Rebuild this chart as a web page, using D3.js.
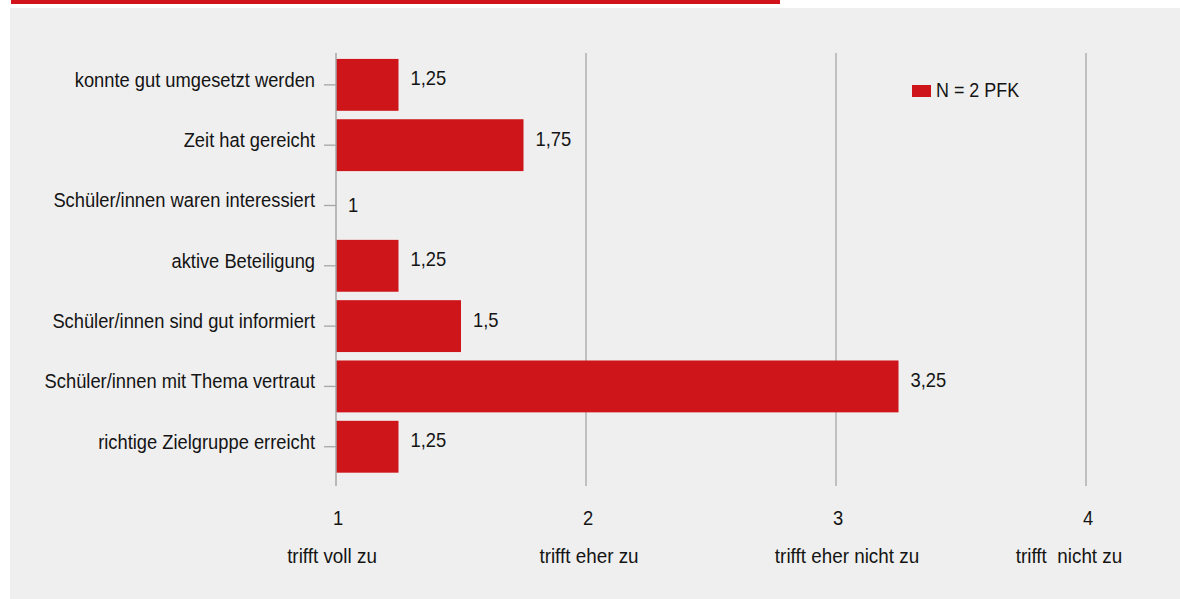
<!DOCTYPE html>
<html>
<head>
<meta charset="utf-8">
<script src="https://cdn.jsdelivr.net/npm/d3@7"></script>
<style>
  html, body { margin: 0; padding: 0; background: #ffffff; }
  svg { display: block; }
  text { font-family: "Liberation Sans", Arial, sans-serif; fill: #141414; white-space: pre; }
</style>
</head>
<body>
<script>
// Statements rated on a scale from 1 (trifft voll zu) to 4 (trifft nicht zu)
const categories = [
  "konnte gut umgesetzt werden",
  "Zeit hat gereicht",
  "Schüler/innen waren interessiert",
  "aktive Beteiligung",
  "Schüler/innen sind gut informiert",
  "Schüler/innen mit Thema vertraut",
  "richtige Zielgruppe erreicht"
];
const values = [1.25, 1.75, 1, 1.25, 1.5, 3.25, 1.25];
const scaleTicks = [1, 2, 3, 4];
const scaleLabels = ["trifft voll zu", "trifft eher zu", "trifft eher nicht zu", "trifft  nicht zu"];
const seriesName = "N = 2 PFK";

const W = 1180, H = 599;
const red = "#cd151a";
const grid = "#a6a6a6";
const sx = 0.92;                       // horizontal squeeze for a condensed look
const sxCat = 0.94;
const labelNudge = [-4, 3, 11, -17];   // horizontal nudge of the verbal scale anchors

const svg = d3.select("body").append("svg").attr("width", W).attr("height", H);

// accent line and panel
svg.append("rect").attr("x", 11).attr("y", 0).attr("width", 769).attr("height", 4).attr("fill", "#d2121b");
svg.append("rect").attr("x", 10).attr("y", 8).attr("width", W - 10).attr("height", H - 8).attr("fill", "#efefef");

const x = d3.scaleLinear().domain([1, 4]).range([336, 1086]);
const y = d3.scaleBand().domain(categories).range([54.7, 476.9]).paddingInner(0.14).paddingOuter(0.07);
const plotTop = 53, plotBottom = 486;

// vertical gridlines
svg.append("g").selectAll("line").data(scaleTicks.slice(1)).join("line")
  .attr("x1", d => x(d)).attr("x2", d => x(d))
  .attr("y1", plotTop).attr("y2", plotBottom)
  .attr("stroke", grid).attr("stroke-width", 1.3);

// bars
svg.append("g").selectAll("rect").data(values).join("rect")
  .attr("x", x(1))
  .attr("y", (d, i) => y(categories[i]))
  .attr("width", d => x(d) - x(1))
  .attr("height", y.bandwidth())
  .attr("fill", red);

// category axis
const yAxis = svg.append("g").attr("transform", `translate(${x(1)},0)`)
  .call(d3.axisLeft(y).tickSize(12).tickPadding(9));
yAxis.attr("font-family", null).attr("font-size", null);
yAxis.select(".domain").remove();
yAxis.selectAll(".tick line").attr("stroke", grid).attr("stroke-width", 1.3);
yAxis.selectAll(".tick text")
  .attr("font-size", 19.5)
  .attr("x", -21 / sxCat)
  .attr("dy", "0.1em")
  .attr("transform", `scale(${sxCat},1)`)
  .attr("fill", "#141414");
svg.append("line")
  .attr("x1", x(1)).attr("x2", x(1)).attr("y1", plotTop).attr("y2", plotBottom)
  .attr("stroke", grid).attr("stroke-width", 1.5);

// value labels (a zero-length bar gets its label set slightly lower)
svg.append("g").selectAll("text").data(values).join("text")
  .attr("transform", (d, i) => `translate(${x(d) + 12},${y(categories[i]) + y.bandwidth() / 2}) scale(${sx},1)`)
  .attr("dy", d => d === x.domain()[0] ? "0.33em" : "0.02em")
  .attr("font-size", 20)
  .text(d => String(d).replace(".", ","));

// scale axis: numbers and verbal anchors
const xAxis = svg.append("g");
xAxis.selectAll("text.num").data(scaleTicks).join("text")
  .attr("class", "num")
  .attr("transform", d => `translate(${x(d) + 2},525) scale(${sx},1)`)
  .attr("text-anchor", "middle").attr("font-size", 20)
  .text(d => d);
xAxis.selectAll("text.lab").data(scaleLabels).join("text")
  .attr("class", "lab")
  .attr("transform", (d, i) => `translate(${x(scaleTicks[i]) + labelNudge[i]},562.5) scale(${sx},1)`)
  .attr("text-anchor", "middle").attr("font-size", 20.5)
  .text(d => d);

// legend
const lg = svg.append("g").attr("transform", "translate(912,85)");
lg.append("rect").attr("width", 19).attr("height", 12).attr("fill", red);
lg.append("text").attr("transform", `translate(24,12) scale(${sx},1)`).attr("font-size", 19.5).text(seriesName);
</script>
</body>
</html>
